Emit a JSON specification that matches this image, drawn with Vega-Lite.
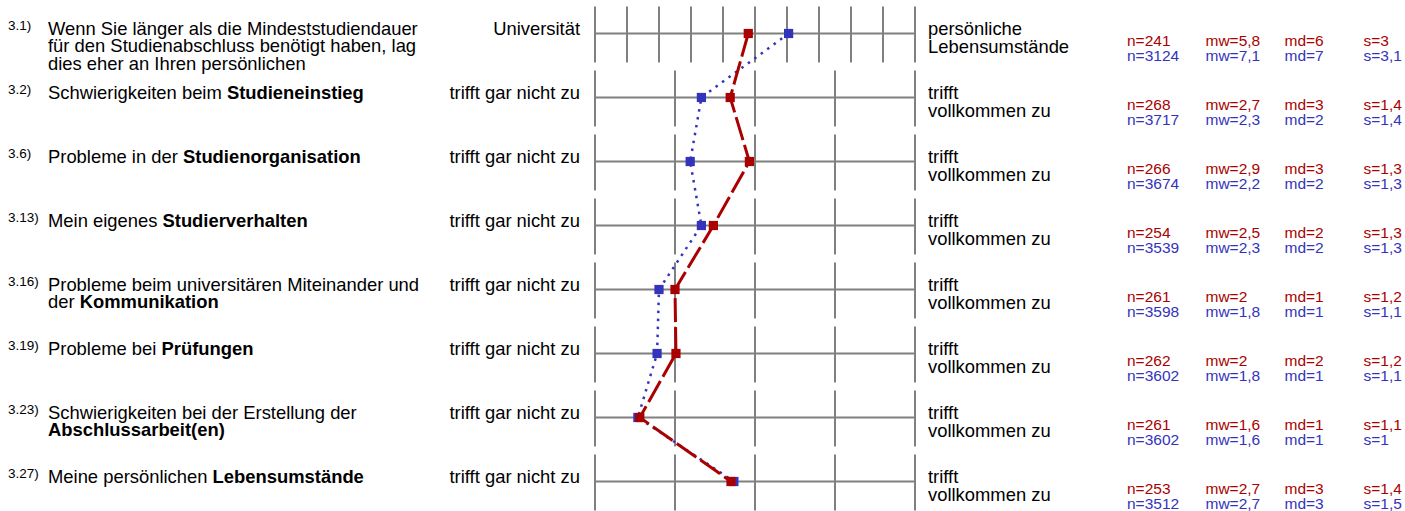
{
  "$schema": "https://vega.github.io/schema/vega-lite/v6.json",
  "width": 1405,
  "height": 511,
  "padding": 0,
  "autosize": {"type": "none"},
  "background": "white",
  "config": {"view": {"stroke": null}, "text": {"font": "Liberation Sans"}},
  "datasets": {
    "items": [
      {"row": 1, "num": "3.1)", "text": ["Wenn Sie länger als die Mindeststudiendauer", "für den Studienabschluss benötigt haben, lag", "dies eher an Ihren persönlichen"], "bold": "", "left": "Universität", "right": ["persönliche", "Lebensumstände"]},
      {"row": 2, "num": "3.2)", "text": ["Schwierigkeiten beim"], "bold": "Studieneinstieg", "left": "trifft gar nicht zu", "right": ["trifft", "vollkommen zu"]},
      {"row": 3, "num": "3.6)", "text": ["Probleme in der"], "bold": "Studienorganisation", "left": "trifft gar nicht zu", "right": ["trifft", "vollkommen zu"]},
      {"row": 4, "num": "3.13)", "text": ["Mein eigenes"], "bold": "Studierverhalten", "left": "trifft gar nicht zu", "right": ["trifft", "vollkommen zu"]},
      {"row": 5, "num": "3.16)", "text": ["Probleme beim universitären Miteinander und", "der"], "bold": "Kommunikation", "left": "trifft gar nicht zu", "right": ["trifft", "vollkommen zu"]},
      {"row": 6, "num": "3.19)", "text": ["Probleme bei"], "bold": "Prüfungen", "left": "trifft gar nicht zu", "right": ["trifft", "vollkommen zu"]},
      {"row": 7, "num": "3.23)", "text": ["Schwierigkeiten bei der Erstellung der"], "bold": "Abschlussarbeit(en)", "left": "trifft gar nicht zu", "right": ["trifft", "vollkommen zu"]},
      {"row": 8, "num": "3.27)", "text": ["Meine persönlichen"], "bold": "Lebensumstände", "left": "trifft gar nicht zu", "right": ["trifft", "vollkommen zu"]}
    ],
    "ticks": [
      {"row": 1, "t": 0}, {"row": 1, "t": 0.1}, {"row": 1, "t": 0.2}, {"row": 1, "t": 0.3}, {"row": 1, "t": 0.4}, {"row": 1, "t": 0.5}, {"row": 1, "t": 0.6}, {"row": 1, "t": 0.7}, {"row": 1, "t": 0.8}, {"row": 1, "t": 0.9}, {"row": 1, "t": 1},
      {"row": 2, "t": 0}, {"row": 2, "t": 0.25}, {"row": 2, "t": 0.5}, {"row": 2, "t": 0.75}, {"row": 2, "t": 1},
      {"row": 3, "t": 0}, {"row": 3, "t": 0.25}, {"row": 3, "t": 0.5}, {"row": 3, "t": 0.75}, {"row": 3, "t": 1},
      {"row": 4, "t": 0}, {"row": 4, "t": 0.25}, {"row": 4, "t": 0.5}, {"row": 4, "t": 0.75}, {"row": 4, "t": 1},
      {"row": 5, "t": 0}, {"row": 5, "t": 0.25}, {"row": 5, "t": 0.5}, {"row": 5, "t": 0.75}, {"row": 5, "t": 1},
      {"row": 6, "t": 0}, {"row": 6, "t": 0.25}, {"row": 6, "t": 0.5}, {"row": 6, "t": 0.75}, {"row": 6, "t": 1},
      {"row": 7, "t": 0}, {"row": 7, "t": 0.25}, {"row": 7, "t": 0.5}, {"row": 7, "t": 0.75}, {"row": 7, "t": 1},
      {"row": 8, "t": 0}, {"row": 8, "t": 0.25}, {"row": 8, "t": 0.5}, {"row": 8, "t": 0.75}, {"row": 8, "t": 1}
    ],
    "profile": [
      {"row": 1, "group": "A", "pos": 0.479, "n": 241, "mw": 5.8, "md": 6, "s": 3},
      {"row": 1, "group": "B", "pos": 0.605, "n": 3124, "mw": 7.1, "md": 7, "s": 3.1},
      {"row": 2, "group": "A", "pos": 0.4225, "n": 268, "mw": 2.7, "md": 3, "s": 1.4},
      {"row": 2, "group": "B", "pos": 0.3325, "n": 3717, "mw": 2.3, "md": 2, "s": 1.4},
      {"row": 3, "group": "A", "pos": 0.4825, "n": 266, "mw": 2.9, "md": 3, "s": 1.3},
      {"row": 3, "group": "B", "pos": 0.2975, "n": 3674, "mw": 2.2, "md": 2, "s": 1.3},
      {"row": 4, "group": "A", "pos": 0.37, "n": 254, "mw": 2.5, "md": 2, "s": 1.3},
      {"row": 4, "group": "B", "pos": 0.3325, "n": 3539, "mw": 2.3, "md": 2, "s": 1.3},
      {"row": 5, "group": "A", "pos": 0.25, "n": 261, "mw": 2, "md": 1, "s": 1.2},
      {"row": 5, "group": "B", "pos": 0.2, "n": 3598, "mw": 1.8, "md": 1, "s": 1.1},
      {"row": 6, "group": "A", "pos": 0.253, "n": 262, "mw": 2, "md": 2, "s": 1.2},
      {"row": 6, "group": "B", "pos": 0.194, "n": 3602, "mw": 1.8, "md": 1, "s": 1.1},
      {"row": 7, "group": "A", "pos": 0.14, "n": 261, "mw": 1.6, "md": 1, "s": 1.1},
      {"row": 7, "group": "B", "pos": 0.134, "n": 3602, "mw": 1.6, "md": 1, "s": 1},
      {"row": 8, "group": "A", "pos": 0.425, "n": 253, "mw": 2.7, "md": 3, "s": 1.4},
      {"row": 8, "group": "B", "pos": 0.434, "n": 3512, "mw": 2.7, "md": 3, "s": 1.5}
    ]
  },
  "encoding": {
    "y": {"field": "row", "type": "quantitative", "scale": {"domain": [0.4765625, 8.4609375], "reverse": true, "nice": false, "zero": false}, "axis": null}
  },
  "layer": [
    {
      "data": {"name": "items"},
      "mark": {"type": "rule", "color": "#808080", "strokeWidth": 2},
      "encoding": {
        "x": {"datum": 0, "type": "quantitative", "scale": {"domain": [-1.859375, 2.53125], "nice": false, "zero": false}, "axis": null},
        "x2": {"datum": 1}
      }
    },
    {
      "data": {"name": "ticks"},
      "mark": {"type": "rule", "color": "#808080", "strokeWidth": 2, "yOffset": -27, "y2Offset": 29},
      "encoding": {
        "x": {"field": "t", "type": "quantitative", "scale": {"domain": [-1.859375, 2.53125], "nice": false, "zero": false}, "axis": null},
        "y2": {"field": "row"}
      }
    },
    {
      "data": {"name": "profile"},
      "transform": [{"filter": "datum.group === 'B'"}],
      "mark": {"type": "line", "color": "#3333bb", "strokeWidth": 2.5, "strokeDash": [2.5, 5.5]},
      "encoding": {
        "x": {"field": "pos", "type": "quantitative", "scale": {"domain": [-1.859375, 2.53125], "nice": false, "zero": false}, "axis": null},
        "order": {"field": "row", "type": "quantitative"}
      }
    },
    {
      "data": {"name": "profile"},
      "transform": [{"filter": "datum.group === 'A'"}],
      "mark": {"type": "line", "color": "#aa0000", "strokeWidth": 3, "strokeDash": [24, 5]},
      "encoding": {
        "x": {"field": "pos", "type": "quantitative", "scale": {"domain": [-1.859375, 2.53125], "nice": false, "zero": false}, "axis": null},
        "order": {"field": "row", "type": "quantitative"}
      }
    },
    {
      "data": {"name": "profile"},
      "transform": [{"filter": "datum.group === 'B'"}],
      "mark": {"type": "point", "shape": "square", "filled": true, "size": 85, "color": "#3333bb", "opacity": 1},
      "encoding": {
        "x": {"field": "pos", "type": "quantitative", "scale": {"domain": [-1.859375, 2.53125], "nice": false, "zero": false}, "axis": null}
      }
    },
    {
      "data": {"name": "profile"},
      "transform": [{"filter": "datum.group === 'A'"}],
      "mark": {"type": "point", "shape": "square", "filled": true, "size": 85, "color": "#aa0000", "opacity": 1},
      "encoding": {
        "x": {"field": "pos", "type": "quantitative", "scale": {"domain": [-1.859375, 2.53125], "nice": false, "zero": false}, "axis": null}
      }
    },
    {
      "data": {"name": "items"},
      "mark": {"type": "text", "align": "left", "baseline": "alphabetic", "fontSize": 13.5, "dy": -4, "color": "#000000"},
      "encoding": {"x": {"value": 8}, "text": {"field": "num"}}
    },
    {
      "data": {"name": "items"},
      "mark": {"type": "text", "align": "left", "baseline": "alphabetic", "fontSize": 18.4, "lineHeight": 17.5, "dy": 1, "color": "#000000"},
      "encoding": {"x": {"value": 48}, "text": {"field": "text"}}
    },
    {
      "data": {"name": "items"},
      "transform": [{"filter": "datum.row === 2"}],
      "mark": {"type": "text", "align": "left", "baseline": "alphabetic", "fontSize": 18.4, "fontWeight": "bold", "dx": 178.9, "dy": 1, "color": "#000000"},
      "encoding": {"x": {"value": 48}, "text": {"field": "bold"}}
    },
    {
      "data": {"name": "items"},
      "transform": [{"filter": "datum.row === 3"}],
      "mark": {"type": "text", "align": "left", "baseline": "alphabetic", "fontSize": 18.4, "fontWeight": "bold", "dx": 135.0, "dy": 1, "color": "#000000"},
      "encoding": {"x": {"value": 48}, "text": {"field": "bold"}}
    },
    {
      "data": {"name": "items"},
      "transform": [{"filter": "datum.row === 4"}],
      "mark": {"type": "text", "align": "left", "baseline": "alphabetic", "fontSize": 18.4, "fontWeight": "bold", "dx": 114.5, "dy": 1, "color": "#000000"},
      "encoding": {"x": {"value": 48}, "text": {"field": "bold"}}
    },
    {
      "data": {"name": "items"},
      "transform": [{"filter": "datum.row === 5"}],
      "mark": {"type": "text", "align": "left", "baseline": "alphabetic", "fontSize": 18.4, "fontWeight": "bold", "dx": 31.7, "dy": 18.5, "color": "#000000"},
      "encoding": {"x": {"value": 48}, "text": {"field": "bold"}}
    },
    {
      "data": {"name": "items"},
      "transform": [{"filter": "datum.row === 6"}],
      "mark": {"type": "text", "align": "left", "baseline": "alphabetic", "fontSize": 18.4, "fontWeight": "bold", "dx": 113.5, "dy": 1, "color": "#000000"},
      "encoding": {"x": {"value": 48}, "text": {"field": "bold"}}
    },
    {
      "data": {"name": "items"},
      "transform": [{"filter": "datum.row === 7"}],
      "mark": {"type": "text", "align": "left", "baseline": "alphabetic", "fontSize": 18.4, "fontWeight": "bold", "dx": 0, "dy": 18.5, "color": "#000000"},
      "encoding": {"x": {"value": 48}, "text": {"field": "bold"}}
    },
    {
      "data": {"name": "items"},
      "transform": [{"filter": "datum.row === 8"}],
      "mark": {"type": "text", "align": "left", "baseline": "alphabetic", "fontSize": 18.4, "fontWeight": "bold", "dx": 164.6, "dy": 1, "color": "#000000"},
      "encoding": {"x": {"value": 48}, "text": {"field": "bold"}}
    },
    {
      "data": {"name": "items"},
      "mark": {"type": "text", "align": "right", "baseline": "alphabetic", "fontSize": 18.4, "dy": 1, "color": "#000000"},
      "encoding": {"x": {"value": 580}, "text": {"field": "left"}}
    },
    {
      "data": {"name": "items"},
      "mark": {"type": "text", "align": "left", "baseline": "alphabetic", "fontSize": 18.4, "lineHeight": 18.5, "dy": 1, "color": "#000000"},
      "encoding": {"x": {"value": 928}, "text": {"field": "right"}}
    },
    {
      "data": {"name": "profile"},
      "transform": [{"filter": "datum.group === 'A'"}, {"calculate": "'n=' + datum.n", "as": "lab"}],
      "mark": {"type": "text", "align": "left", "baseline": "alphabetic", "fontSize": 15.5, "dy": 12, "color": "#aa0000"},
      "encoding": {"x": {"value": 1127}, "text": {"field": "lab"}}
    },
    {
      "data": {"name": "profile"},
      "transform": [{"filter": "datum.group === 'B'"}, {"calculate": "'n=' + datum.n", "as": "lab"}],
      "mark": {"type": "text", "align": "left", "baseline": "alphabetic", "fontSize": 15.5, "dy": 27, "color": "#3333bb"},
      "encoding": {"x": {"value": 1127}, "text": {"field": "lab"}}
    },
    {
      "data": {"name": "profile"},
      "transform": [{"filter": "datum.group === 'A'"}, {"calculate": "'mw=' + replace(toString(datum.mw), '.', ',')", "as": "lab"}],
      "mark": {"type": "text", "align": "left", "baseline": "alphabetic", "fontSize": 15.5, "dy": 12, "color": "#aa0000"},
      "encoding": {"x": {"value": 1205.5}, "text": {"field": "lab"}}
    },
    {
      "data": {"name": "profile"},
      "transform": [{"filter": "datum.group === 'B'"}, {"calculate": "'mw=' + replace(toString(datum.mw), '.', ',')", "as": "lab"}],
      "mark": {"type": "text", "align": "left", "baseline": "alphabetic", "fontSize": 15.5, "dy": 27, "color": "#3333bb"},
      "encoding": {"x": {"value": 1205.5}, "text": {"field": "lab"}}
    },
    {
      "data": {"name": "profile"},
      "transform": [{"filter": "datum.group === 'A'"}, {"calculate": "'md=' + datum.md", "as": "lab"}],
      "mark": {"type": "text", "align": "left", "baseline": "alphabetic", "fontSize": 15.5, "dy": 12, "color": "#aa0000"},
      "encoding": {"x": {"value": 1284.5}, "text": {"field": "lab"}}
    },
    {
      "data": {"name": "profile"},
      "transform": [{"filter": "datum.group === 'B'"}, {"calculate": "'md=' + datum.md", "as": "lab"}],
      "mark": {"type": "text", "align": "left", "baseline": "alphabetic", "fontSize": 15.5, "dy": 27, "color": "#3333bb"},
      "encoding": {"x": {"value": 1284.5}, "text": {"field": "lab"}}
    },
    {
      "data": {"name": "profile"},
      "transform": [{"filter": "datum.group === 'A'"}, {"calculate": "'s=' + replace(toString(datum.s), '.', ',')", "as": "lab"}],
      "mark": {"type": "text", "align": "left", "baseline": "alphabetic", "fontSize": 15.5, "dy": 12, "color": "#aa0000"},
      "encoding": {"x": {"value": 1363.5}, "text": {"field": "lab"}}
    },
    {
      "data": {"name": "profile"},
      "transform": [{"filter": "datum.group === 'B'"}, {"calculate": "'s=' + replace(toString(datum.s), '.', ',')", "as": "lab"}],
      "mark": {"type": "text", "align": "left", "baseline": "alphabetic", "fontSize": 15.5, "dy": 27, "color": "#3333bb"},
      "encoding": {"x": {"value": 1363.5}, "text": {"field": "lab"}}
    }
  ]
}
